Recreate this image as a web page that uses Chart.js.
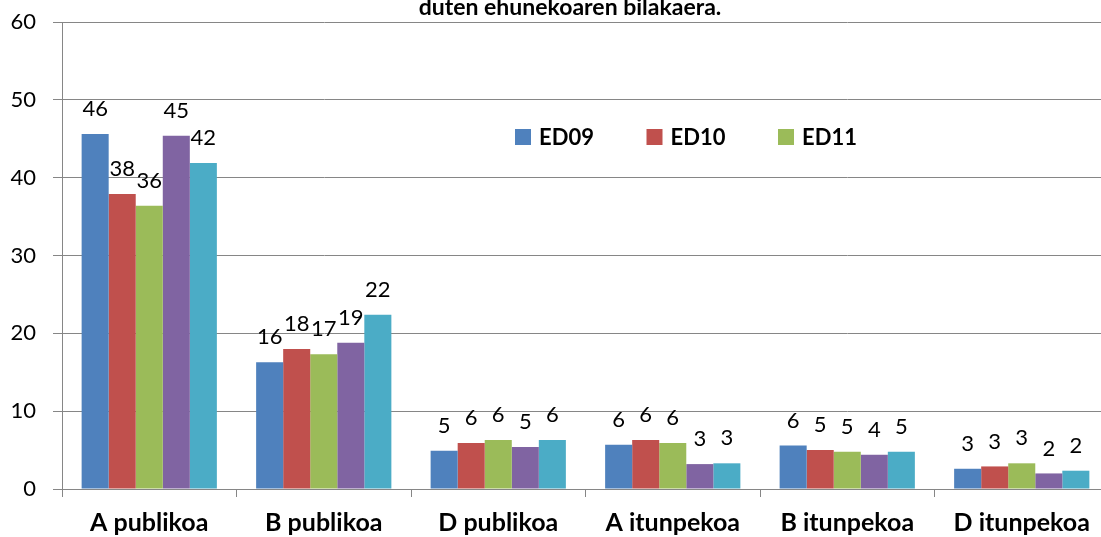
<!DOCTYPE html>
<html>
<head>
<meta charset="utf-8">
<script src="https://cdn.jsdelivr.net/npm/chart.js@4/dist/chart.umd.min.js"></script>
<style>
  html, body { margin: 0; padding: 0; background: #fff; overflow: hidden; }
  #wrap { position: absolute; left: 0; top: 0; width: 1110px; height: 537px; }
</style>
</head>
<body>
<div id="wrap"><canvas id="bchart" width="1110" height="537"></canvas></div>
<script>
// categories and series
const categories = ["A publikoa", "B publikoa", "D publikoa", "A itunpekoa", "B itunpekoa", "D itunpekoa"];
const seriesNames = ["ED09", "ED10", "ED11", "ED12", "ED13"];
const ed09 = [45.6, 16.3, 4.9, 5.7, 5.6, 2.6];
const ed10 = [37.9, 18.0, 5.9, 6.3, 5.0, 2.9];
const ed11 = [36.4, 17.3, 6.3, 5.9, 4.8, 3.3];
const ed12 = [45.4, 18.8, 5.4, 3.2, 4.4, 2.0];
const ed13 = [41.9, 22.4, 6.3, 3.3, 4.8, 2.35];
const yTicks = [0, 10, 20, 30, 40, 50, 60];
const colors = ["#4F81BD", "#C0504D", "#9BBB59", "#8064A2", "#4BACC6"];
const titleText = "duten ehunekoaren bilakaera.";

const allValues = [ed09, ed10, ed11, ed12, ed13];
const gray = "#868686";

// value labels above each bar
const barLabels = {
    id: 'barLabels',
    afterDatasetsDraw(chart) {
        const ctx = chart.ctx;
        ctx.save();
        ctx.font = '22px Lato';
        ctx.fillStyle = '#000';
        ctx.textAlign = 'center';
        ctx.textBaseline = 'middle';
        chart.data.datasets.forEach((ds, i) => {
            chart.getDatasetMeta(i).data.forEach((bar, j) => {
                ctx.fillText(Math.round(ds.data[j]), bar.x, bar.y - 25);
            });
        });
        ctx.restore();
    }
};

// title (only its second line shows) and the 3-item legend
const extras = {
    id: 'extras',
    afterDraw(chart) {
        const ctx = chart.ctx;
        ctx.save();
        ctx.fillStyle = '#000';
        ctx.font = 'bold 23px Lato';
        ctx.textAlign = 'center';
        ctx.textBaseline = 'alphabetic';
        ctx.fillText(titleText, 570, 15);

        ctx.font = 'bold 22px Lato';
        ctx.textAlign = 'left';
        ctx.textBaseline = 'middle';
        for (let i = 0; i < 3; i++) {
            const x = 515 + i * 131.5;
            ctx.fillStyle = colors[i];
            ctx.fillRect(x, 129, 16, 16);
            ctx.fillStyle = '#000';
            ctx.fillText(seriesNames[i], x + 24, 138);
        }
        ctx.restore();
    }
};

new Chart(document.getElementById("bchart"), {
    type: 'bar',
    data: {
        labels: categories,
        datasets: allValues.map((vals, i) => ({
            label: seriesNames[i],
            data: vals,
            backgroundColor: colors[i],
            borderWidth: 0,
            categoryPercentage: 0.775,
            barPercentage: 1
        }))
    },
    options: {
        responsive: false,
        animation: false,
        devicePixelRatio: 1,
        layout: { padding: { top: 22, right: 1, left: 0, bottom: 0 } },
        plugins: {
            legend: { display: false },
            title: { display: false },
            tooltip: { enabled: false }
        },
        scales: {
            x: {
                afterFit: s => { s.height = 48; },
                grid: {
                    offset: true,
                    drawOnChartArea: false,
                    drawTicks: true,
                    tickLength: 8,
                    color: gray
                },
                border: { color: gray, width: 1 },
                ticks: {
                    color: '#000',
                    padding: 11,
                    font: { family: 'Lato', size: 25, weight: 'bold' }
                }
            },
            y: {
                min: 0,
                max: 60,
                afterFit: s => { s.width = 62; s.paddingTop = 12; s.paddingBottom = 12; },
                afterBuildTicks: s => { s.ticks = yTicks.map(v => ({ value: v })); },
                grid: { color: gray, tickLength: 9 },
                border: { color: gray, width: 1 },
                ticks: {
                    color: '#000',
                    padding: 17,
                    font: { family: 'Lato', size: 22 }
                }
            }
        }
    },
    plugins: [barLabels, extras]
});
</script>
</body>
</html>
